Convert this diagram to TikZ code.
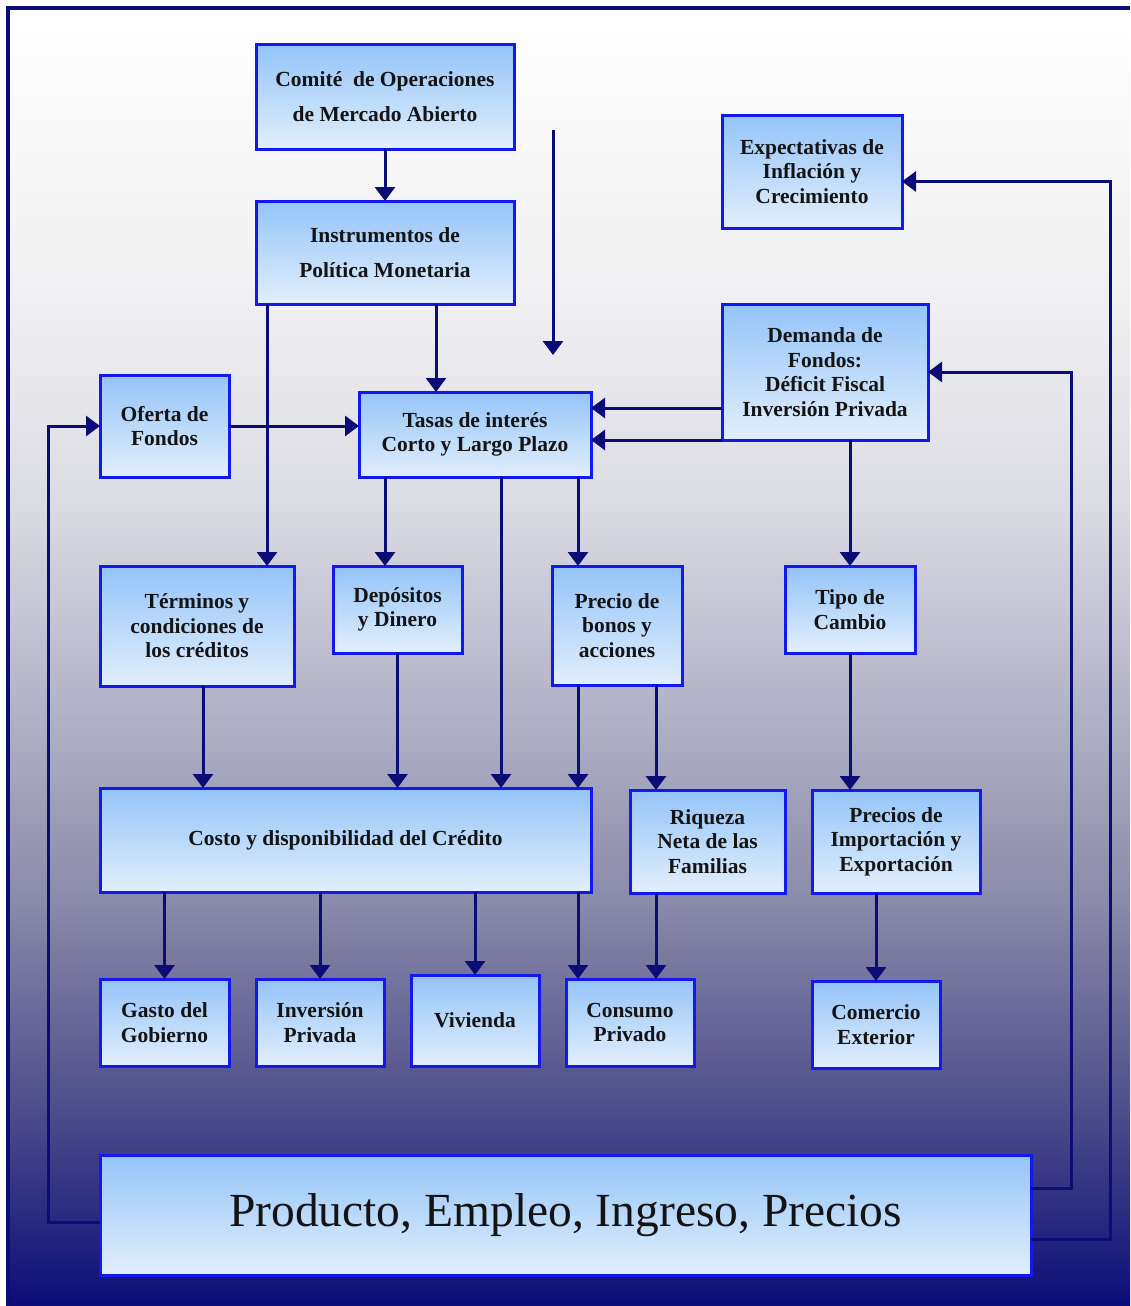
\documentclass[tikz,border=0pt]{standalone}
\usepackage{fontspec}
\setmainfont{Liberation Serif}
\usetikzlibrary{arrows.meta,calc,positioning}
\definecolor{marino}{RGB}{12,12,118}
\definecolor{borde}{RGB}{18,24,238}
\definecolor{cajaarriba}{RGB}{148,196,248}
\definecolor{cajaabajo}{RGB}{226,239,252}
\definecolor{fA}{RGB}{12,12,120}
\definecolor{fB}{RGB}{80,80,140}
\definecolor{fC}{RGB}{138,138,170}
\definecolor{fD}{RGB}{180,180,200}
\definecolor{fE}{RGB}{220,220,228}
\definecolor{fF}{RGB}{240,240,242}
\pgfdeclareverticalshading{fondo}{100bp}{color(0bp)=(fA); color(25bp)=(fA); color(32.9bp)=(fB); color(40.6bp)=(fC); color(48.3bp)=(fD); color(56.1bp)=(fE); color(63.8bp)=(fF); color(75bp)=(white); color(100bp)=(white)}

\begin{document}
\begin{tikzpicture}[x=1pt,y=1pt,
  caja/.style={draw=borde, line width=3pt, top color=cajaarriba, bottom color=cajaabajo,
    inner sep=0pt, outer sep=0pt, align=center, text=black!92,
    font=\bfseries\fontsize{21.5}{24.5}\selectfont},
  flecha/.style={draw=marino, line width=3pt, -{Triangle[width=20pt,length=14pt]}}]
\fill[white] (0,0) rectangle (1130,-1306);
\useasboundingbox (0,0) rectangle (1130,-1306);
\fill[shading=fondo] (8,-8) rectangle (1130,-1306);
\draw[marino, line width=3.5pt] (8,-1306) -- (8,-8) -- (1130,-8);

\node[caja, minimum width=258, minimum height=104] (comite) at (385,-97) {Comité\ \ de Operaciones\\[10.5pt]de Mercado Abierto};
\node[caja, minimum width=258, minimum height=103] (instr) at (385,-252.5) {Instrumentos de\\[10.5pt]Política Monetaria};
\node[caja, minimum width=180, minimum height=113] (expec) at (812,-171.5) {Expectativas de\\Inflación y\\Crecimiento};
\node[caja, minimum width=206, minimum height=136] (dem) at (825,-372) {Demanda de\\Fondos:\\Déficit Fiscal\\Inversión Privada};
\node[caja, minimum width=129, minimum height=102] (oferta) at (164.5,-426) {Oferta de\\Fondos};
\node[caja, minimum width=232, minimum height=85] (tasas) at (475,-434.5) {Tasas de interés\\Corto y Largo Plazo};
\node[caja, minimum width=194, minimum height=120] (term) at (197,-626) {Términos y\\condiciones de\\los créditos};
\node[caja, minimum width=129, minimum height=87] (dep) at (397.5,-609.5) {Depósitos\\y Dinero};
\node[caja, minimum width=130, minimum height=119] (bonos) at (617,-625.5) {Precio de\\bonos y\\acciones};
\node[caja, minimum width=130, minimum height=87] (tipo) at (850,-609.5) {Tipo de\\Cambio};
\node[caja, minimum width=491, minimum height=104] (costo) at (345.5,-840) {Costo y disponibilidad del Crédito};
\node[caja, minimum width=155, minimum height=103] (riq) at (707.5,-841.5) {Riqueza\\Neta de las\\Familias};
\node[caja, minimum width=168, minimum height=103] (imp) at (896,-841.5) {Precios de\\Importación y\\Exportación};
\node[caja, minimum width=129, minimum height=87] (gasto) at (164.5,-1022.5) {Gasto del\\Gobierno};
\node[caja, minimum width=128, minimum height=87] (inv) at (320,-1022.5) {Inversión\\Privada};
\node[caja, minimum width=128, minimum height=91] (viv) at (475,-1020.5) {Vivienda};
\node[caja, minimum width=128, minimum height=87] (cons) at (630,-1022.5) {Consumo\\Privado};
\node[caja, minimum width=128, minimum height=87] (com) at (876,-1024.5) {Comercio\\Exterior};
\node[caja, minimum width=931, minimum height=120, font=\fontsize{47.5}{50}\selectfont] (prod) at (565.5,-1215) {Producto, Empleo, Ingreso, Precios};

% flecha suelta
\coordinate (suelta1) at (553,-130);
\coordinate (suelta2) at (553,-355);
\draw[flecha] (suelta1) -- (suelta2);

\draw[flecha] (comite) -- (instr);
\draw[flecha] ([xshift=11]instr.south west) -- ([xshift=11]instr.south west |- term.north);
\draw[flecha] ([xshift=51]instr.south) -- ([xshift=51]instr.south |- tasas.north);
\draw[flecha] (oferta.east) -- (oferta.east -| tasas.west);
\draw[flecha] ([yshift=-36]dem.west) -- ([yshift=-36]dem.west -| tasas.east);
\draw[flecha] (dem.south west) -- (dem.south west -| tasas.east);
\draw[flecha] (dem.south -| tipo.north) -- (tipo.north);

% realimentacion
\draw[flecha] ([yshift=-7]prod.west) -| ([xshift=-52]oferta.west) -- (oferta.west);
\draw[flecha] ([yshift=27]prod.east) -| ([xshift=143]dem.east) -- (dem.east);
\draw[flecha] ([yshift=-24]prod.east) -| ([xshift=208,yshift=-10]expec.east) -- ([yshift=-10]expec.east);

\draw[flecha] ([xshift=26]tasas.south west) -- ([xshift=26]tasas.south west |- dep.north);
\draw[flecha] ([xshift=26]tasas.south) -- ([xshift=26]tasas.south |- costo.north);
\draw[flecha] ([xshift=-13]tasas.south east) -- ([xshift=-13]tasas.south east |- bonos.north);
\draw[flecha] ([xshift=6]term.south) -- ([xshift=6]term.south |- costo.north);
\draw[flecha] (dep.south) -- (dep.south |- costo.north);
\draw[flecha] ([xshift=-39]bonos.south) -- ([xshift=-39]bonos.south |- costo.north);
\draw[flecha] ([xshift=39]bonos.south) -- ([xshift=39]bonos.south |- riq.north);
\draw[flecha] (tipo.south) -- (tipo.south |- imp.north);

\draw[flecha] (gasto.north |- costo.south) -- (gasto.north);
\draw[flecha] (inv.north |- costo.south) -- (inv.north);
\draw[flecha] (viv.north |- costo.south) -- (viv.north);
\draw[flecha] ([xshift=12]cons.north west |- costo.south) -- ([xshift=12]cons.north west);
\draw[flecha] ([xshift=-51.5]riq.south) -- ([xshift=-51.5]riq.south |- cons.north);
\draw[flecha] (com.north |- imp.south) -- (com.north);
\end{tikzpicture}
\end{document}
